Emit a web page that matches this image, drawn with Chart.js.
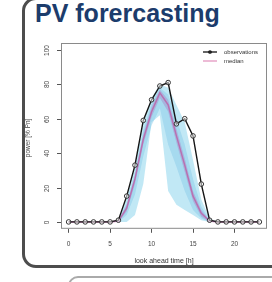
<!DOCTYPE html>
<html lang="en">
<head>
<meta charset="UTF-8">
<title>PV forecasting</title>
<script src="https://cdn.jsdelivr.net/npm/chart.js@4.4.0/dist/chart.umd.min.js"></script>
<style>
  body { margin: 0; background: #fff; width: 272px; height: 282px; overflow: hidden; position: relative; font-family: "Liberation Sans", Arial, sans-serif; }
  #panel { position: absolute; left: 22px; top: -3px; width: 300px; height: 271px; box-sizing: border-box; border: 3px solid #4d4d4d; border-radius: 14px; }
  #panel2 { position: absolute; left: 68px; top: 276px; width: 260px; height: 40px; box-sizing: border-box; border: 2px solid #aaa; border-radius: 10px; }
  #title { position: absolute; left: 35px; top: 1px; font: bold 25px/25px "Liberation Sans", Arial, sans-serif; color: #1c3c6c; white-space: nowrap; }
  #chart { position: absolute; left: 0; top: 0; }
</style>
</head>
<body>
<div id="panel"></div>
<div id="panel2"></div>
<div id="title">PV forercasting</div>
<canvas id="chart" width="272" height="282"></canvas>

<script>
// look ahead time, hours
const hours = [0,1,2,3,4,5,6,7,8,9,10,11,12,13,14,15,16,17,18,19,20,21,22,23];
const observations = [0,0,0,0,0,0,1,15,33,59,71,79,81,57,60,50,22,1,0,0,0,0,0,0];
const median =       [0,0,0,0,0,0,0.5,8,25,48,64,75,68,50,33,15,5,0.5,0,0,0,0,0,0];
// quantile bands
const outerUpper = [0,0,0,0,0,0,1,14,33,58,72,80,78,68,58,36,13,2,0,0,0,0,0,0];
const outerLower = [0,0,0,0,0,0,0,0,4,22,58,62,18,10,7,4,1,0,0,0,0,0,0,0];
const innerUpper = [0,0,0,0,0,0,1,11,29,53,69,78,74,60,45,25,9,1,0,0,0,0,0,0];
const innerLower = [0,0,0,0,0,0,0,4,16,38,56,66,45,32,18,7,2,0,0,0,0,0,0,0];
const midUpper =   [0,0,0,0,0,0,0.5,10,27,51,67,77,71,54,37,18,7,1,0,0,0,0,0,0];
const midLower =   [0,0,0,0,0,0,0,6,22,45,61,72,64,46,29,12,3,0,0,0,0,0,0,0];

const xTicks = [0,5,10,15,20];
const yTicks = [0,20,40,60,80,100];

function pts(arr) {
    return hours.map((h, i) => ({ x: h, y: arr[i] }));
}

const band = (data, color, fill) => ({
    data: pts(data), borderWidth: 0, pointRadius: 0, fill: fill,
    backgroundColor: color, borderColor: 'rgba(0,0,0,0)', tension: 0
});

const rAxes = {
    id: 'rAxes',
    afterDraw(chart) {
        const ctx = chart.ctx;
        const a = chart.chartArea;
        const y = chart.scales.y;
        ctx.save();
        // plot box
        ctx.strokeStyle = '#8a8a8a';
        ctx.lineWidth = 1;
        ctx.strokeRect(a.left + 0.5, a.top + 0.5, a.right - a.left - 1, a.bottom - a.top - 1);
        // y ticks and rotated labels
        ctx.strokeStyle = '#555';
        ctx.fillStyle = '#444';
        ctx.font = '6.5px "Liberation Sans", Arial, sans-serif';
        ctx.textAlign = 'center';
        ctx.textBaseline = 'middle';
        yTicks.forEach(v => {
            const py = Math.round(y.getPixelForValue(v)) + 0.5;
            ctx.beginPath();
            ctx.moveTo(a.left - 4, py);
            ctx.lineTo(a.left, py);
            ctx.stroke();
            ctx.save();
            ctx.translate(a.left - 14, py);
            ctx.rotate(-Math.PI / 2);
            ctx.fillText(String(v), 0, 0);
            ctx.restore();
        });
        // y title
        ctx.save();
        ctx.translate(28, (a.top + a.bottom) / 2 + 2);
        ctx.rotate(-Math.PI / 2);
        ctx.font = '6.5px "Liberation Sans", Arial, sans-serif';
        ctx.fillText('power [% Pn]', 0, 0);
        ctx.restore();
        // legend
        ctx.font = '6px "Liberation Sans", Arial, sans-serif';
        ctx.textAlign = 'left';
        ctx.strokeStyle = '#111';
        ctx.lineWidth = 1.3;
        ctx.beginPath(); ctx.moveTo(203, 52); ctx.lineTo(217, 52); ctx.stroke();
        ctx.beginPath(); ctx.arc(210, 52, 1.2, 0, Math.PI * 2); ctx.stroke();
        ctx.strokeStyle = 'rgba(225,140,185,0.9)';
        ctx.beginPath(); ctx.moveTo(203, 61); ctx.lineTo(217, 61); ctx.stroke();
        ctx.fillStyle = '#333';
        ctx.fillText('observations', 224, 52);
        ctx.fillText('median', 224, 61);
        ctx.restore();
    }
};

const ctx = document.getElementById('chart').getContext('2d');
const myChart = new Chart(ctx, {
    type: 'line',
    data: {
        datasets: [
            {
                data: pts(observations), borderColor: '#151515', borderWidth: 1.4,
                pointRadius: 2.3, pointBorderWidth: 1, pointBorderColor: '#333',
                pointBackgroundColor: 'rgba(255,255,255,0.5)', fill: false, tension: 0
            },
            {
                data: pts(median), borderColor: 'rgba(190,95,165,0.8)', borderWidth: 1.5,
                pointRadius: 0, fill: false, tension: 0
            },
            band(midUpper, 'rgba(165,120,195,0.38)', '+1'),
            band(midLower, 'rgba(0,0,0,0)', false),
            band(innerUpper, 'rgba(125,195,230,0.4)', '+1'),
            band(innerLower, 'rgba(0,0,0,0)', false),
            band(outerUpper, 'rgba(160,220,240,0.65)', '+1'),
            band(outerLower, 'rgba(0,0,0,0)', false)
        ]
    },
    options: {
        responsive: false,
        animation: false,
        devicePixelRatio: 1,
        layout: { padding: { left: 61, top: 43, right: 1, bottom: 17 } },
        plugins: { legend: { display: false }, tooltip: { enabled: false } },
        scales: {
            x: {
                type: 'linear', min: -0.92, max: 23.92,
                afterBuildTicks: s => { s.ticks = xTicks.map(v => ({ value: v })); },
                grid: { drawOnChartArea: false, drawTicks: true, tickLength: 4, color: '#555' },
                border: { display: false },
                ticks: { color: '#444', font: { size: 6.5, family: '"Liberation Sans", Arial, sans-serif' }, padding: 8, maxRotation: 0 },
                title: { display: true, text: 'look ahead time [h]', color: '#333',
                         font: { size: 7, family: '"Liberation Sans", Arial, sans-serif' }, padding: { top: 0, bottom: 0 } }
            },
            y: {
                type: 'linear', min: -4, max: 104, display: false
            }
        }
    },
    plugins: [rAxes]
});
</script>
</body>
</html>
